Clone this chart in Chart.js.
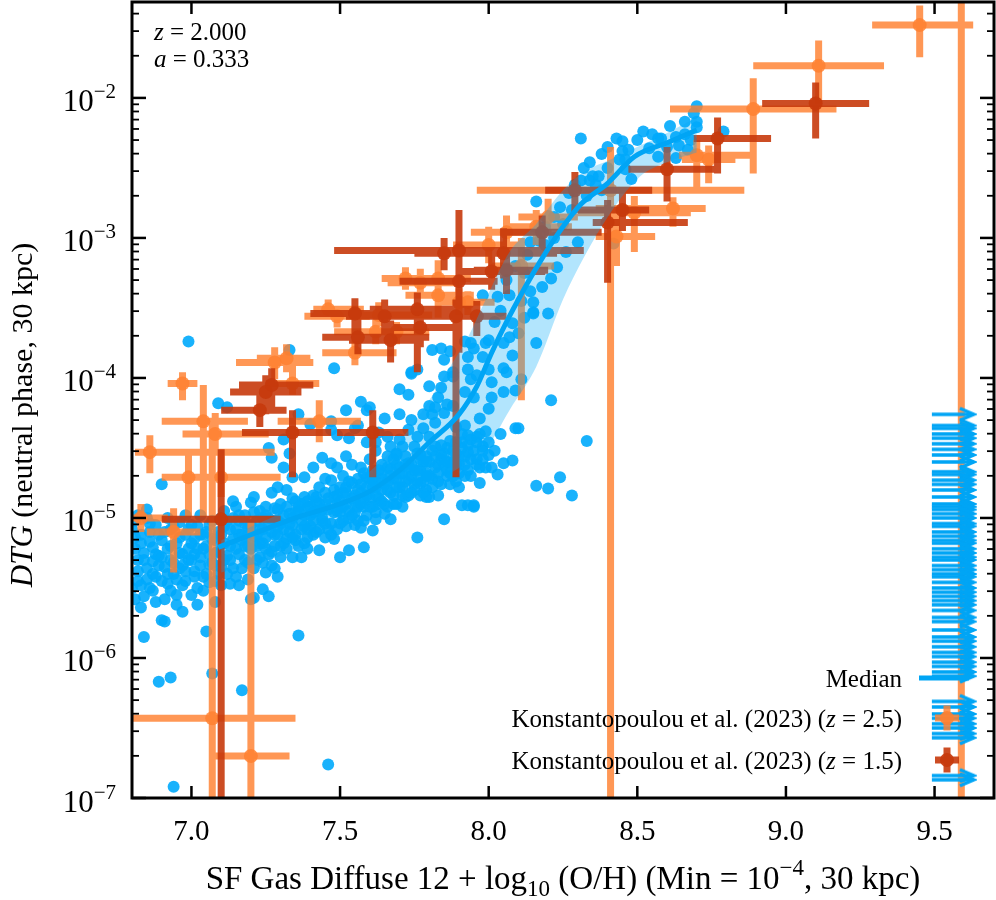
<!DOCTYPE html>
<html>
<head>
<meta charset="utf-8">
<script src="https://cdn.jsdelivr.net/npm/chart.js@4.4.1/dist/chart.umd.min.js"></script>
<style>
  html, body { margin: 0; padding: 0; background: #fff; }
  #wrap { width: 996px; height: 900px; }
</style>
</head>
<body>
<div id="wrap"><canvas id="c" width="996" height="900"></canvas></div>
<script>
// ---- data (x = 12 + log10(O/H), y given as log10 DTG) ----
const scatterX = [
  6.81,6.81,6.82,6.82,6.83,6.83,6.84,6.84,6.85,6.85,6.86,6.86,6.87,6.87,6.88,6.88,6.89,6.89,6.90,6.90,
  6.90,6.91,6.91,6.92,6.92,6.93,6.93,6.93,6.94,6.94,6.95,6.95,6.96,6.96,6.97,6.97,6.98,6.98,6.99,6.99,
  7.00,7.00,7.01,7.01,7.02,7.02,7.03,7.03,7.04,7.04,7.05,7.05,7.06,7.06,7.07,7.07,7.08,7.08,7.09,7.09,
  7.10,7.10,
  7.11,7.11,7.12,7.12,7.13,7.13,7.14,7.14,7.15,7.15,7.16,7.16,7.17,7.17,7.18,7.18,7.19,7.19,7.20,7.20,
  7.21,7.21,7.21,7.22,7.22,7.23,7.23,7.24,7.24,7.25,7.25,7.25,7.26,7.26,7.26,7.27,7.27,7.27,7.28,7.28,
  7.29,7.29,7.29,7.30,7.30,7.31,7.31,7.31,7.32,7.32,7.33,7.33,7.33,7.34,7.34,7.34,7.35,7.35,7.36,7.36,
  7.36,7.37,7.37,7.38,7.38,7.38,7.39,7.39,7.40,7.40,
  7.41,7.41,7.42,7.42,7.43,7.43,7.44,7.44,7.45,7.45,7.46,7.46,7.47,7.47,7.47,7.47,7.48,7.48,7.48,7.49,
  7.49,7.49,7.50,7.50,7.50,7.51,7.51,7.52,7.52,7.52,7.53,7.53,7.53,7.54,7.54,7.55,7.55,7.55,7.56,7.56,
  7.57,7.57,7.57,7.57,7.58,7.58,7.58,7.59,7.59,7.59,7.60,7.60,7.60,7.61,7.61,7.61,7.62,7.62,7.62,7.63,
  7.63,7.64,7.64,7.64,7.65,7.65,7.66,7.66,7.67,7.67,7.67,7.68,7.68,7.69,7.69,7.69,7.70,7.70,7.70,
  7.71,7.71,7.71,7.72,7.72,7.73,7.73,7.73,7.74,7.74,7.74,7.75,7.75,7.76,7.76,7.76,7.76,7.77,7.77,7.78,
  7.78,7.79,7.79,7.79,7.80,7.80,7.80,7.80,7.81,7.81,7.81,7.82,7.82,7.82,7.83,7.83,7.84,7.84,7.84,7.85,
  7.85,7.85,7.85,7.85,7.86,7.86,7.87,7.87,7.87,7.88,7.88,7.88,7.89,7.89,7.90,7.90,7.91,7.91,7.92,7.92,
  7.92,7.93,7.93,7.93,7.93,7.93,7.94,7.94,7.94,7.95,7.95,7.95,7.95,7.96,7.96,7.97,7.97,7.98,7.98,7.98,
  7.99,7.99,8.00,8.00,8.00,
  8.01,8.01,8.01,8.03,8.03,8.04,8.05,8.05,8.05,8.05,8.06,8.07,8.07,8.08,8.08,8.08,8.09,8.09,8.10,8.10,
  8.11,8.12,8.14,8.15,8.15,8.15,8.16,8.16,8.16,8.20,8.20,8.21,8.21,8.23,8.24,8.26,8.28,8.30,8.31,8.31,
  8.33,8.34,8.28,8.33,8.36,8.40,8.38,8.25,8.22,8.19,8.12,8.18,
  8.35,8.37,8.42,8.43,8.44,8.45,8.45,8.46,8.46,8.47,8.48,8.52,8.54,8.57,8.57,8.58,8.60,8.63,8.63,8.64,
  8.66,8.67,8.69,8.70,8.70,8.70,8.79,
  // dense core of the relation
  6.80,6.81,6.82,6.83,6.84,6.85,6.86,6.86,6.87,6.88,6.89,6.89,
  6.90,6.91,6.92,6.93,6.94,6.94,6.95,6.96,6.97,6.98,6.99,6.99,
  7.00,7.01,7.02,7.03,7.04,7.05,7.05,7.06,7.07,7.08,7.08,7.09,
  7.10,7.11,7.12,7.13,7.14,7.15,7.16,7.16,7.17,7.18,7.19,7.19,
  7.20,7.21,7.22,7.23,7.24,7.24,7.25,7.26,7.27,7.28,7.28,7.29,7.29,
  7.30,7.31,7.32,7.33,7.34,7.34,7.35,7.36,7.37,7.38,7.39,7.39,
  7.40,7.41,7.41,7.42,7.43,7.44,7.45,7.45,7.46,7.47,7.48,7.49,7.49,
  7.50,7.51,7.52,7.52,7.53,7.54,7.55,7.56,7.56,7.57,7.58,7.59,7.59,
  7.60,7.61,7.62,7.62,7.63,7.64,7.65,7.66,7.66,7.67,7.68,7.69,7.69,
  7.70,7.71,7.72,7.73,7.73,7.74,7.75,7.76,7.77,7.77,7.78,7.79,7.79,
  7.80,7.81,7.82,7.83,7.84,7.84,7.86,7.86,7.87,7.88,7.89,7.89,
  7.90,7.91,7.92,7.93,7.94,7.96,7.97,7.98,7.99,
  8.02,8.04,8.06,8.09,8.11,8.13,8.14,8.17,8.19,8.22,8.24,8.27,8.29,8.32,8.34,8.38,8.40,8.50,8.55,8.61,
  8.66,8.68,
  6.80,6.81,6.82,6.83,6.84,6.85,6.87,6.88,6.90,6.91,6.92,6.93,6.95,6.96,6.97,6.98,7.00,7.01,7.02,7.03,
  7.04,7.06,7.07,7.08,7.09,7.10,
  7.11,7.12,7.13,7.14,7.15,7.16,7.17,7.18,7.19,7.20,7.21,7.22,7.23,7.24,7.25,7.26,7.27,7.28,7.29,7.30,
  7.31,7.32,7.33,7.34,7.35,7.36,7.37,7.38,7.39,7.40,7.41,7.42,7.43,7.44,7.45,7.46,7.47,7.48,7.49,7.50,
  7.51,7.52,7.53,7.54,7.55,7.56,7.57,7.58,7.59,7.60,7.61,7.62,7.63,7.64,7.65,7.66,7.67,7.68,7.69,7.70,
  7.71,7.72,7.73,7.74,7.75,7.76,7.77,7.78,7.79,7.80,7.81,7.82,7.83,7.84,7.85,7.86,7.87,7.88,7.89,7.90,
  7.91,7.92,7.93,7.94,7.95,7.96,7.97,7.98,8.00,8.02,
  7.62,7.66,7.70,7.74,7.78,7.83,7.88,7.92,7.96,8.00
];
const scatterLogDTG = [
  -5.02,-5.14,-5.30,-5.45,-5.18,-5.64,-5.85,-5.25,-5.36,-4.94,-5.10,-5.50,-5.21,-5.31,-5.05,-5.42,-6.17,-5.27,-4.76,-5.73,
  -5.16,-5.35,-5.74,-5.22,-5.47,-6.14,-5.08,-5.30,-6.92,-5.40,-5.18,-5.55,-5.25,-5.03,-5.67,-5.34,-5.12,-5.45,-5.22,-3.74,
  -5.30,-5.05,-5.38,-5.15,-5.50,-5.22,-5.28,-4.98,-5.42,-5.12,-5.81,-5.20,-5.33,-5.05,-6.11,-5.15,-5.25,-5.45,-4.18,-5.10,
  -5.35,-5.00,
  -5.18,-4.95,-4.21,-5.27,-5.47,-5.08,-5.15,-4.88,-4.92,-5.22,-5.48,-5.02,-6.23,-5.12,-5.30,-4.98,-5.07,-5.20,-4.89,-5.58,
  -4.85,-5.57,-5.13,-5.02,-5.30,-4.95,-5.18,-5.51,-5.08,-5.39,-4.98,-5.22,-5.56,-4.50,-5.05,-4.57,-4.82,-5.34,-5.12,-4.93,
  -4.78,-5.42,-5.02,-5.20,-4.90,-4.64,-4.44,-5.08,-4.80,-5.15,-4.54,-3.80,-4.97,-4.71,-5.28,-5.05,-4.88,-5.12,-4.26,-5.84,
  -4.95,-5.28,-5.02,-4.71,-4.85,-5.18,-4.92,-5.08,-4.33,-4.98,
  -4.64,-5.12,-4.85,-4.95,-5.23,-4.78,-4.57,-5.02,-4.90,-4.72,-6.76,-5.08,-4.31,-4.37,-4.61,-4.73,-3.93,-4.85,-5.15,-4.64,
  -4.41,-4.95,-5.28,-4.78,-4.88,-5.02,-4.70,-4.23,-4.56,-4.82,-5.23,-4.43,-4.95,-4.75,-4.62,-4.36,-4.88,-5.05,-4.34,-4.72,
  -4.17,-4.64,-5.07,-4.82,-5.21,-4.92,-4.68,-4.23,-4.46,-4.71,-4.21,-4.85,-4.58,-4.78,-5.09,-4.66,-5.01,-4.46,-4.74,-4.39,
  -4.90,-4.62,-4.68,-4.80,-4.29,-4.97,-4.56,-4.74,-4.49,-5.01,-4.65,-4.84,-4.58,-4.54,-4.55,-4.72,-4.08,-4.26,-4.64,
  -4.92,-4.49,-4.78,-4.62,-4.85,-4.12,-4.37,-4.61,-3.97,-3.96,-4.70,-4.49,-4.80,-4.42,-5.14,-3.94,-4.66,-4.55,-4.75,-4.26,
  -4.60,-4.56,-4.85,-4.68,-4.06,-4.20,-4.42,-4.85,-3.80,-4.26,-4.72,-4.21,-4.32,-4.49,-4.84,-4.62,-3.79,-4.07,-4.55,-3.87,
  -3.99,-4.25,-4.62,-5.01,-4.19,-4.70,-3.81,-4.76,-4.45,-3.99,-3.96,-4.60,-4.54,-4.35,-4.78,-4.68,-4.91,-4.50,-3.74,-4.34,
  -4.62,-3.85,-3.94,-4.41,-4.91,-4.53,-4.01,-3.75,-4.70,-3.79,-4.14,-4.92,-4.91,-4.46,-4.58,-4.29,-4.75,-3.85,-3.41,-4.49,
  -3.75,-4.64,-3.73,-3.94,-4.55,
  -4.03,-4.14,-4.64,-3.42,-4.69,-4.40,-3.93,-3.75,-4.10,-4.61,-3.96,-3.71,-3.41,-3.84,-3.61,-4.59,-4.09,-4.36,-3.68,-4.36,
  -4.01,-3.57,-3.03,-3.53,-3.54,-3.46,-2.74,-3.75,-4.77,-3.54,-4.79,-3.29,-4.16,-3.21,-4.71,-3.10,-4.84,-3.03,-2.29,-2.59,
  -4.45,-2.59,-2.80,-2.70,-2.62,-2.50,-2.66,-2.90,-3.00,-3.05,-3.25,-3.35,
  -2.56,-2.56,-3.04,-2.29,-2.44,-2.31,-2.38,-2.44,-2.51,-2.37,-2.58,-2.24,-2.36,-2.29,-2.42,-2.29,-2.35,-2.28,-2.43,-2.34,
  -2.17,-2.37,-2.11,-2.06,-2.17,-2.21,-2.24,
  -5.08,-5.22,-5.38,-5.12,-5.30,-5.44,-5.17,-5.04,-5.40,-5.26,-5.12,-5.34,
  -5.28,-5.10,-5.40,-5.20,-5.06,-5.32,-5.44,-5.14,-5.26,-5.38,-5.08,-5.30,
  -5.18,-5.42,-5.06,-5.34,-5.22,-5.10,-5.40,-5.26,-5.02,-5.16,-5.34,-5.24,
  -5.12,-5.30,-5.02,-5.20,-5.36,-5.08,-4.98,-5.26,-5.16,-5.04,-5.32,-5.12,
  -5.22,-4.96,-5.12,-5.28,-5.00,-5.18,-4.92,-5.26,-5.10,-5.02,-5.20,-4.94,-5.12,
  -5.04,-5.18,-4.92,-5.10,-4.86,-5.00,-5.16,-4.92,-5.08,-4.98,-4.88,-5.14,
  -5.06,-4.84,-4.96,-5.10,-4.90,-5.00,-4.82,-5.14,-4.94,-5.04,-4.80,-4.90,-5.08,
  -4.96,-4.82,-5.06,-4.90,-4.74,-4.98,-4.84,-5.02,-4.92,-4.76,-4.86,-4.98,-4.78,
  -4.92,-4.72,-4.84,-4.96,-4.66,-4.88,-4.76,-4.92,-4.64,-4.82,-4.72,-4.90,-4.62,
  -4.78,-4.68,-4.56,-4.84,-4.72,-4.62,-4.76,-4.54,-4.84,-4.66,-4.74,-4.60,-4.80,
  -4.70,-4.52,-4.64,-4.74,-4.48,-4.58,-4.66,-4.50,-4.60,-4.70,-4.46,-4.62,
  -4.56,-4.40,-4.70,-4.48,-4.58,-4.42,-4.64,-4.52,-4.38,
  -3.60,-3.52,-3.30,-3.20,-3.45,-3.12,-3.38,-3.02,-2.92,-2.85,-2.78,-2.68,-2.62,-2.50,-2.46,-2.40,-2.35,-2.30,-2.26,-2.20,
  -2.26,-2.30,
  -5.50,-5.58,-4.98,-5.48,-5.56,-5.00,-5.52,-5.60,-5.45,-5.58,-5.00,-5.52,-5.62,-5.36,-5.48,-4.98,-5.55,-5.26,-5.62,-5.12,
  -5.52,-5.46,-5.32,-5.60,-5.40,-5.48,
  -5.06,-5.40,-5.30,-5.00,-5.42,-5.12,-5.36,-5.20,-5.44,-5.05,-5.36,-5.20,-5.08,-5.32,-5.14,-5.00,-5.24,-5.36,-5.06,-5.28,
  -4.98,-5.22,-5.04,-5.14,-4.96,-5.20,-4.90,-5.06,-5.22,-4.92,-5.02,-4.88,-5.08,-4.94,-5.04,-4.86,-5.12,-4.96,-4.84,-5.04,
  -4.92,-4.78,-5.00,-4.86,-4.96,-4.80,-4.90,-5.02,-4.84,-4.72,-4.92,-4.78,-4.86,-4.72,-4.90,-4.80,-4.70,-4.90,-4.78,-4.68,
  -4.84,-4.74,-4.64,-4.82,-4.66,-4.74,-4.58,-4.82,-4.70,-4.60,-4.78,-4.56,-4.68,-4.76,-4.54,-4.60,-4.68,-4.52,-4.74,-4.62,
  -4.46,-4.56,-4.66,-4.44,-4.52,-4.62,-4.40,-4.58,-4.46,-4.52,
  -4.52,-4.42,-4.44,-4.30,-4.36,-4.14,-4.20,-4.10,-3.98,-4.22
];

// running median and 16-84 band
const medianX      = [7.09, 7.20, 7.35, 7.50, 7.60, 7.70, 7.80, 7.90, 7.96, 8.01, 8.06, 8.11, 8.17, 8.24, 8.31, 8.40, 8.49, 8.60, 8.70];
const medianLogDTG = [-5.21,-5.12,-5.00,-4.90,-4.81,-4.66,-4.46,-4.26,-4.06,-3.82,-3.60,-3.40,-3.18,-2.95,-2.76,-2.61,-2.42,-2.32,-2.23];
const bandX        = [7.10, 7.35, 7.58, 7.72, 7.80, 7.87, 7.93, 7.99, 8.07, 8.16, 8.25, 8.32, 8.41, 8.51, 8.60, 8.70];
const bandLoLogDTG = [-5.39,-5.23,-4.92,-4.80,-4.74,-4.68,-4.60,-4.51,-4.23,-3.92,-3.44,-3.14,-2.82,-2.56,-2.46,-2.39];
const bandHiLogDTG = [-5.16,-4.92,-4.70,-4.40,-4.16,-3.92,-3.71,-3.44,-3.10,-2.90,-2.66,-2.53,-2.44,-2.34,-2.25,-2.14];

// galaxies beyond the x range, drawn as arrows at the right edge
const arrowX = 9.565;
const arrowLogDTG = [
  -4.26,-4.34,-4.36,-4.40,-4.43,-4.47,-4.51,-4.55,-4.60,-4.67,-4.69,-4.73,-4.76,-4.80,-4.85,-4.90,-4.92,-4.94,
  -4.97,-5.00,-5.04,-5.06,-5.10,-5.13,-5.16,-5.18,-5.22,-5.25,-5.28,-5.30,-5.34,-5.37,-5.40,-5.42,-5.46,-5.50,
  -5.53,-5.56,-5.59,-5.62,-5.66,-5.71,-5.74,-5.80,-5.85,-5.88,-5.92,-5.96,-5.99,-6.03,-6.06,-6.10,-6.13,-6.31,
  -6.35,-6.40,-6.43,-6.47,-6.50,-6.54,-6.57,-6.84,-6.87
];

// Konstantopoulou et al. (2023), z = 2.5
const k25X      = [9.59, 9.45, 9.11, 8.89, 8.70, 8.74, 8.62, 8.49, 8.41, 8.43, 8.06, 8.16, 8.00, 8.20, 7.72, 7.77, 7.83, 7.83, 7.90, 7.93, 7.63, 7.46, 7.49, 7.62, 7.69, 7.55, 6.97, 7.28, 7.32, 7.34, 7.04, 7.08, 7.43, 6.86, 6.99, 7.10, 6.94, 6.83, 7.07, 7.20, 8.11];
const k25XLo    = [9.59, 9.29, 8.89, 8.61, 8.64, 8.65, 8.36, 8.30, 7.96, 8.36, 7.94, 8.05, 7.88, 8.10, 7.64, 7.66, 7.74, 7.72, 7.82, 7.84, 7.57, 7.41, 7.38, 7.48, 7.58, 7.44, 6.92, 7.15, 7.22, 7.25, 6.90, 6.97, 7.29, 6.81, 6.90, 6.95, 6.85, 6.78, 6.80, 7.07, 8.00];
const k25XHi    = [9.59, 9.63, 9.33, 9.17, 8.89, 8.83, 8.73, 8.68, 8.86, 8.56, 8.18, 8.28, 8.12, 8.30, 7.80, 7.90, 7.94, 7.95, 8.00, 8.02, 7.81, 7.58, 7.60, 7.72, 7.80, 7.69, 7.02, 7.41, 7.40, 7.43, 7.19, 7.26, 7.57, 7.28, 7.26, 7.30, 7.03, 6.92, 7.35, 7.33, 8.22];
const k25LogY   = [-1.10,-1.48,-1.77,-2.08,-2.41,-2.44,-2.79,-2.82,-2.66,-2.99,-2.96,-2.92,-3.05,-2.85,-3.29,-3.32,-3.29,-3.41,-3.46,-3.46,-3.55,-3.51,-3.56,-3.67,-3.67,-3.82,-4.04,-3.89,-3.86,-4.04,-4.31,-4.40,-4.31,-4.53,-4.71,-4.71,-5.10,-5.00,-6.43,-6.70,-3.20];
const k25LogYLo = [-8.00,-1.71,-2.04,-2.54,-2.64,-2.61,-2.92,-3.10,-8.00,-3.20,-3.08,-3.05,-3.18,-2.98,-3.37,-3.42,-3.57,-3.50,-3.55,-3.55,-3.63,-3.58,-3.64,-3.76,-3.76,-3.91,-4.16,-4.01,-3.96,-4.12,-4.99,-4.55,-4.46,-4.68,-4.99,-4.85,-5.39,-5.10,-8.00,-8.00,-4.16];
const k25LogYHi = [-0.80,-1.34,-1.59,-1.86,-2.30,-2.34,-2.71,-2.70,-2.35,-2.80,-2.84,-2.80,-2.92,-2.72,-3.21,-3.22,-3.16,-3.32,-3.36,-3.38,-3.46,-3.44,-3.49,-3.58,-3.60,-3.73,-3.96,-3.78,-3.76,-3.89,-4.05,-4.25,-4.16,-4.41,-4.55,-4.55,-4.93,-4.90,-4.30,-5.03,-3.00];

// Konstantopoulou et al. (2023), z = 1.5
const k15X      = [9.10, 8.77, 8.60, 8.29, 8.40, 8.45, 8.18, 7.90, 7.85, 8.05, 8.01, 7.90, 8.06, 7.55, 7.76, 7.56, 7.67, 7.77, 7.89, 7.96, 7.27, 7.25, 7.23, 7.34, 7.61, 7.10, 7.65];
const k15XLo    = [8.92, 8.69, 8.47, 8.19, 8.35, 8.30, 8.06, 7.48, 7.75, 7.88, 7.89, 7.70, 7.95, 7.40, 7.60, 7.44, 7.53, 7.66, 7.76, 7.83, 7.16, 7.13, 7.10, 7.17, 7.49, 6.90, 7.52];
const k15XHi    = [9.28, 8.95, 8.78, 8.55, 8.67, 8.54, 8.38, 8.32, 7.97, 8.23, 8.19, 8.03, 8.20, 7.77, 7.96, 7.80, 7.77, 7.88, 8.03, 8.06, 7.41, 7.37, 7.32, 7.47, 7.73, 7.30, 7.80];
const k15LogY   = [-2.04,-2.29,-2.51,-2.66,-2.89,-2.80,-2.96,-3.09,-3.11,-3.11,-3.24,-3.31,-3.23,-3.54,-3.51,-3.71,-3.73,-3.64,-3.56,-3.56,-4.05,-4.10,-4.23,-4.39,-4.39,-5.01,-3.56];
const k15LogYLo = [-2.29,-2.54,-2.74,-2.82,-3.32,-2.95,-3.10,-3.30,-3.23,-3.29,-3.37,-3.82,-3.40,-3.69,-3.96,-3.83,-3.89,-3.78,-4.71,-3.70,-4.24,-4.26,-4.35,-4.71,-4.71,-8.00,-3.70];
const k15LogYHi = [-1.89,-2.14,-2.35,-2.53,-2.73,-2.65,-2.84,-2.80,-3.00,-2.93,-3.12,-3.21,-3.10,-3.43,-3.39,-3.57,-3.59,-3.50,-3.44,-3.45,-3.93,-3.98,-4.06,-4.23,-4.23,-4.51,-3.44];

const xTickValues = [7.0, 7.5, 8.0, 8.5, 9.0, 9.5];
const yDecades = [-7, -6, -5, -4, -3, -2];

// ---- styling ----
const SERIF = '"Liberation Serif", "Times New Roman", serif';
const BLUE = 'rgba(0,170,252,0.9)';
const BLUE_LINE = 'rgb(0,165,245)';
const ORANGE = 'rgba(255,128,48,0.82)';
const RED = 'rgba(198,58,12,0.9)';

const pow = v => Math.pow(10, v);

// horizontal + vertical bar per point, broken by null gaps
function errorSegments(xs, xlo, xhi, ly, lylo, lyhi) {
  const pts = [];
  xs.forEach((x, i) => {
    const y = pow(ly[i]);
    pts.push({ x: xlo[i], y: y }, { x: xhi[i], y: y }, { x: x, y: null });
    pts.push({ x: x, y: pow(lylo[i]) }, { x: x, y: pow(lyhi[i]) }, { x: x, y: null });
  });
  return pts;
}

function arrowGlyph(color) {
  const c = document.createElement('canvas');
  c.width = 46; c.height = 18;
  const g = c.getContext('2d');
  g.strokeStyle = color;
  g.lineWidth = 3.5;
  g.beginPath(); g.moveTo(1, 9); g.lineTo(43, 9); g.stroke();
  g.beginPath(); g.moveTo(29, 3); g.lineTo(43, 9); g.lineTo(29, 15); g.stroke();
  return c;
}

// draw a run of text pieces [{t, size, italic, dy}]
function runWidth(ctx, runs) {
  let w = 0;
  runs.forEach(r => { ctx.font = (r.italic ? 'italic ' : '') + r.size + 'px ' + SERIF; w += ctx.measureText(r.t).width; });
  return w;
}
function drawRuns(ctx, runs, x, y) {
  ctx.textBaseline = 'alphabetic';
  ctx.textAlign = 'left';
  runs.forEach(r => {
    ctx.font = (r.italic ? 'italic ' : '') + r.size + 'px ' + SERIF;
    ctx.fillText(r.t, x, y + (r.dy || 0));
    x += ctx.measureText(r.t).width;
  });
}

const decor = {
  id: 'decor',
  afterDraw(chart) {
    const { ctx, chartArea: a } = chart;
    const xs = chart.scales.x, ys = chart.scales.y;
    ctx.save();
    ctx.strokeStyle = '#000';
    ctx.fillStyle = '#000';
    const seg = (x1, y1, x2, y2) => { ctx.beginPath(); ctx.moveTo(x1, y1); ctx.lineTo(x2, y2); ctx.stroke(); };

    // inward ticks
    ctx.lineWidth = 2.5;
    xTickValues.forEach(v => {
      const px = xs.getPixelForValue(v);
      seg(px, a.bottom, px, a.bottom - 12);
      seg(px, a.top, px, a.top + 12);
    });
    const yTop = ys.max;
    [...yDecades, -1].forEach(e => {
      const py = ys.getPixelForValue(pow(e));
      if (pow(e) <= yTop) {
        ctx.lineWidth = 2.5;
        seg(a.left, py, a.left + 14, py);
        seg(a.right, py, a.right - 14, py);
      }
      ctx.lineWidth = 1.8;
      for (let m = 2; m <= 9; m++) {
        const v = m * pow(e);
        if (v > yTop) break;
        const pm = ys.getPixelForValue(v);
        seg(a.left, pm, a.left + 7, pm);
        seg(a.right, pm, a.right - 7, pm);
      }
    });

    // frame
    ctx.lineWidth = 3;
    ctx.strokeRect(a.left, a.top, a.right - a.left, a.bottom - a.top);

    // y tick labels 10^n
    yDecades.forEach(e => {
      const py = ys.getPixelForValue(pow(e));
      const runs = [{ t: '10', size: 31 }, { t: '\u2212' + (-e), size: 21, dy: -13 }];
      const w = runWidth(ctx, runs);
      drawRuns(ctx, runs, 116 - w, py + 13.5);
    });

    // x title
    const xt = [
      { t: 'SF Gas Diffuse 12 + log', size: 33 },
      { t: '10', size: 23, dy: 7 },
      { t: ' (O/H) (Min = 10', size: 33 },
      { t: '\u22124', size: 23, dy: -14 },
      { t: ', 30 kpc)', size: 33 }
    ];
    const xw = runWidth(ctx, xt);
    drawRuns(ctx, xt, (a.left + a.right) / 2 - xw / 2, 889);

    // y title
    const yt = [{ t: 'DTG', size: 31, italic: true }, { t: ' (neutral phase, 30 kpc)', size: 30 }];
    const yw = runWidth(ctx, yt);
    ctx.save();
    ctx.translate(32, (a.top + a.bottom) / 2 + 15);
    ctx.rotate(-Math.PI / 2);
    drawRuns(ctx, yt, -yw / 2, 0);
    ctx.restore();

    // redshift / scale factor note
    drawRuns(ctx, [{ t: 'z', size: 25, italic: true }, { t: ' = 2.000', size: 25 }], 154, 40);
    drawRuns(ctx, [{ t: 'a', size: 25, italic: true }, { t: ' = 0.333', size: 25 }], 154, 67);

    // legend
    const rows = [
      { runs: [{ t: 'Median', size: 25 }], y: 678 },
      { runs: [{ t: 'Konstantopoulou et al. (2023) (', size: 25 }, { t: 'z', size: 25, italic: true }, { t: ' = 2.5)', size: 25 }], y: 718, color: ORANGE },
      { runs: [{ t: 'Konstantopoulou et al. (2023) (', size: 25 }, { t: 'z', size: 25, italic: true }, { t: ' = 1.5)', size: 25 }], y: 760, color: RED }
    ];
    rows.forEach((r, i) => {
      const w = runWidth(ctx, r.runs);
      ctx.fillStyle = '#000';
      drawRuns(ctx, r.runs, 902 - w, r.y + 8.5);
      if (i === 0) {
        ctx.strokeStyle = BLUE_LINE; ctx.lineWidth = 5;
        seg(919, r.y, 969, r.y);
      } else {
        ctx.strokeStyle = r.color; ctx.fillStyle = r.color; ctx.lineWidth = 7;
        ctx.beginPath();
        ctx.moveTo(935, r.y); ctx.lineTo(959, r.y);
        ctx.moveTo(947, r.y - 12.5); ctx.lineTo(947, r.y + 12.5);
        ctx.stroke();
        ctx.beginPath(); ctx.arc(947, r.y, 7, 0, Math.PI * 2); ctx.fill();
      }
    });
    ctx.restore();
  }
};

const arrowImg = arrowGlyph(BLUE_LINE);

new Chart(document.getElementById('c'), {
  type: 'scatter',
  data: {
    datasets: [
      { data: scatterX.map((x, i) => ({ x: x, y: pow(scatterLogDTG[i]) })),
        pointRadius: 6, backgroundColor: BLUE, borderWidth: 0, order: 9, clip: 0 },
      { data: errorSegments(k25X, k25XLo, k25XHi, k25LogY, k25LogYLo, k25LogYHi),
        showLine: true, spanGaps: false, pointRadius: 0, borderColor: ORANGE, borderWidth: 7, order: 8, clip: 0 },
      { data: k25X.map((x, i) => ({ x: x, y: pow(k25LogY[i]) })),
        pointRadius: 7, backgroundColor: ORANGE, borderWidth: 0, order: 7, clip: 0 },
      { data: errorSegments(k15X, k15XLo, k15XHi, k15LogY, k15LogYLo, k15LogYHi),
        showLine: true, spanGaps: false, pointRadius: 0, borderColor: RED, borderWidth: 7, order: 6, clip: 0 },
      { data: k15X.map((x, i) => ({ x: x, y: pow(k15LogY[i]) })),
        pointRadius: 7, backgroundColor: RED, borderWidth: 0, order: 5, clip: 0 },
      { data: bandX.map((x, i) => ({ x: x, y: pow(bandLoLogDTG[i]) })),
        showLine: true, pointRadius: 0, borderWidth: 0, borderColor: 'rgba(0,0,0,0)', cubicInterpolationMode: 'monotone', order: 4, clip: 0 },
      { data: bandX.map((x, i) => ({ x: x, y: pow(bandHiLogDTG[i]) })),
        showLine: true, pointRadius: 0, borderWidth: 0, borderColor: 'rgba(0,0,0,0)', cubicInterpolationMode: 'monotone',
        fill: '-1', backgroundColor: 'rgba(0,168,250,0.3)', order: 3, clip: 0 },
      { data: medianX.map((x, i) => ({ x: x, y: pow(medianLogDTG[i]) })),
        showLine: true, pointRadius: 0, borderColor: BLUE_LINE, borderWidth: 5, cubicInterpolationMode: 'monotone', order: 2, clip: 0 },
      { data: arrowLogDTG.map(v => ({ x: arrowX, y: pow(v) })),
        pointStyle: arrowImg, pointRadius: 10, order: 1, clip: 0 }
    ]
  },
  options: {
    responsive: false,
    animation: false,
    devicePixelRatio: 1,
    layout: { autoPadding: false, padding: { top: 2, right: 2, left: 0, bottom: 0 } },
    plugins: { legend: { display: false }, tooltip: { enabled: false } },
    scales: {
      x: {
        type: 'linear', min: 6.8, max: 9.7,
        afterBuildTicks: s => { s.ticks = xTickValues.map(v => ({ value: v })); },
        afterFit: s => { s.height = 102; },
        grid: { display: false }, border: { display: false },
        ticks: { autoSkip: false, maxRotation: 0, padding: 9, color: '#000',
                 font: { family: SERIF, size: 29 }, callback: v => Number(v).toFixed(1) }
      },
      y: {
        type: 'logarithmic', min: 1e-7, max: Math.pow(10, -1.315),
        afterFit: s => { s.width = 132; },
        grid: { display: false }, border: { display: false },
        ticks: { display: false }
      }
    }
  },
  plugins: [decor]
});
</script>
</body>
</html>
